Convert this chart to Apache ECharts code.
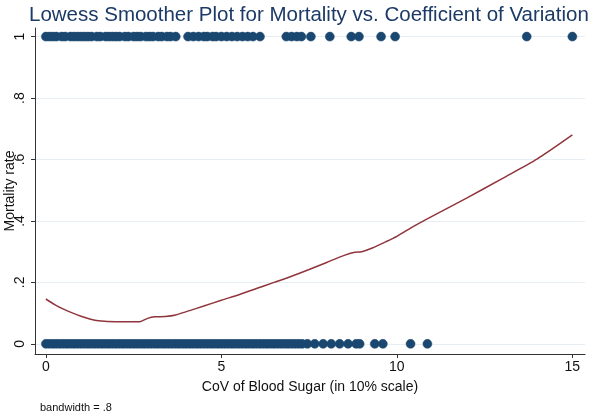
<!DOCTYPE html>
<html>
<head>
<meta charset="utf-8">
<script src="https://cdn.jsdelivr.net/npm/echarts@6/dist/echarts.min.js"></script>
<style>html,body{margin:0;padding:0;background:#fff}#c{width:600px;height:416px}</style>
</head>
<body>
<div id="c"></div>
<script>
// Observations with mortality = 1
var deadX = [0, 0.1, 0.2, 0.3, 0.45, 0.55, 0.7, 0.8, 0.9, 1.0, 1.1, 1.2, 1.3, 1.45, 1.55, 1.7, 1.8, 1.9, 2.0, 2.1, 2.25, 2.35, 2.5, 2.6, 2.7, 2.85, 2.95, 3.05, 3.2, 3.3, 3.45, 3.55, 3.7,
  4.05, 4.2, 4.35, 4.5, 4.6, 4.75, 4.85, 5.0, 5.15, 5.3, 5.45, 5.6, 5.75, 5.9, 6.1,
  6.85, 7.0, 7.15, 7.28, 7.55, 8.09, 8.7, 8.92, 9.55, 9.95, 13.7, 15.0];
// Observations with mortality = 0
var aliveX = [0, 0.1, 0.2, 0.3, 0.4, 0.5, 0.6, 0.7, 0.8, 0.9, 1.0, 1.1, 1.2, 1.3, 1.4, 1.5, 1.6, 1.7, 1.8, 1.9, 2.0, 2.1, 2.2, 2.3, 2.4, 2.5, 2.6, 2.7, 2.8, 2.9, 3.0,
  3.1, 3.2, 3.3, 3.4, 3.5, 3.6, 3.7, 3.8, 3.9, 4.0, 4.1, 4.2, 4.3, 4.4, 4.5, 4.6, 4.7, 4.8, 4.9, 5.0, 5.1, 5.2, 5.3, 5.4, 5.5, 5.6, 5.7, 5.8, 5.9, 6.0,
  6.1, 6.2, 6.3, 6.4, 6.5, 6.6, 6.7, 6.8, 6.9, 7.0, 7.1, 7.2, 7.3, 7.45,
  7.66, 7.9, 8.13, 8.37, 8.61, 8.84, 8.94, 9.37, 9.6, 10.39, 10.87];
// Lowess smoother (bandwidth = .8)
var lowessX = [0, 0.25, 0.5, 0.75, 1.0, 1.25, 1.5, 2.0, 2.5, 2.7, 2.9, 3.1, 3.4, 3.7, 4.0, 4.5, 5.0, 5.5, 6.0, 6.5, 7.0, 7.5, 8.0, 8.5, 8.8, 9.0, 9.3, 9.7, 10.0, 10.5, 11.0, 12.0, 13.0, 14.0, 15.0];
var lowessY = [0.146, 0.128, 0.113, 0.101, 0.090, 0.081, 0.075, 0.072, 0.072, 0.073, 0.083, 0.088, 0.089, 0.094, 0.105, 0.123, 0.142, 0.160, 0.180, 0.200, 0.220, 0.242, 0.265, 0.288, 0.298, 0.300, 0.312, 0.333, 0.350, 0.384, 0.415, 0.475, 0.538, 0.602, 0.680];
var xTicks = [0, 5, 10, 15];
var xTickLabels = ['0', '5', '10', '15'];
var yTicks = [0, 0.2, 0.4, 0.6, 0.8, 1];
var yTickLabels = ['0', '.2', '.4', '.6', '.8', '1'];

function lab(ticks, labels) {
  return function (v) {
    for (var i = 0; i < ticks.length; i++) if (Math.abs(ticks[i] - v) < 1e-9) return labels[i];
    return '';
  };
}
var ptsDead = deadX.map(function (x) { return [x, 1]; });
var ptsAlive = aliveX.map(function (x) { return [x, 0]; });
var ptsLowess = lowessX.map(function (x, i) { return [x, lowessY[i]]; });

var FONT = 'Liberation Sans, Arial, sans-serif';
var chart = echarts.init(document.getElementById('c'), null, { renderer: 'canvas' });
chart.setOption({
  backgroundColor: '#ffffff',
  animation: false,
  title: {
    text: 'Lowess Smoother Plot for Mortality vs. Coefficient of Variation',
    left: 24, top: 0,
    textStyle: { fontFamily: FONT, fontSize: 20.5, fontWeight: 'normal', color: '#1c3a66' }
  },
  graphic: [{
    type: 'text', left: 40, top: 402,
    style: { text: 'bandwidth = .8', fontFamily: FONT, fontSize: 11, fill: '#111' }
  }],
  grid: { left: 35, right: 15, top: 28, bottom: 62, containLabel: false, outerBoundsMode: 'none' },
  xAxis: {
    type: 'value', min: -0.31, max: 15.36,
    name: 'CoV of Blood Sugar (in 10% scale)', nameLocation: 'middle', nameGap: 26, nameMoveOverlap: false,
    nameTextStyle: { fontFamily: FONT, fontSize: 14, color: '#111' },
    axisLine: { show: true, onZero: false, lineStyle: { color: '#333', width: 1 } },
    axisTick: { show: true, length: 4, customValues: xTicks, lineStyle: { color: '#333' } },
    axisLabel: { customValues: xTicks, formatter: lab(xTicks, xTickLabels), fontFamily: FONT, fontSize: 14, color: '#111', margin: 6 },
    splitLine: { show: false }
  },
  yAxis: {
    type: 'value', min: -0.033, max: 1.028,
    name: 'Mortality rate', nameLocation: 'middle', nameGap: 18, nameRotate: 90, nameMoveOverlap: false,
    nameTextStyle: { fontFamily: FONT, fontSize: 14, color: '#111' },
    axisLine: { show: true, onZero: false, lineStyle: { color: '#333', width: 1 } },
    axisTick: { show: true, length: 4, customValues: yTicks, lineStyle: { color: '#333' } },
    axisLabel: { customValues: yTicks, formatter: lab(yTicks, yTickLabels), rotate: 90, fontFamily: FONT, fontSize: 14, color: '#111', margin: 8 },
    splitLine: { show: false }
  },
  series: [
    {
      type: 'line', data: [], silent: true, z: 0, zlevel: 0,
      markLine: {
        silent: true, symbol: 'none', label: { show: false }, z: 0,
        lineStyle: { color: '#e6eef3', width: 1, type: 'solid' },
        data: yTicks.map(function (t) { return { yAxis: t }; })
      }
    },
    {
      type: 'scatter', data: ptsAlive, symbolSize: 9, z: 5,
      itemStyle: { color: '#1a476f', borderColor: '#1a476f', borderWidth: 0.5, opacity: 1 }
    },
    {
      type: 'scatter', data: ptsDead, symbolSize: 9, z: 5,
      itemStyle: { color: '#1a476f', borderColor: '#1a476f', borderWidth: 0.5, opacity: 1 }
    },
    {
      type: 'line', data: ptsLowess, showSymbol: false, smooth: 0.25, z: 6,
      lineStyle: { color: '#90353b', width: 1.5 }
    }
  ]
});
</script>
</body>
</html>
